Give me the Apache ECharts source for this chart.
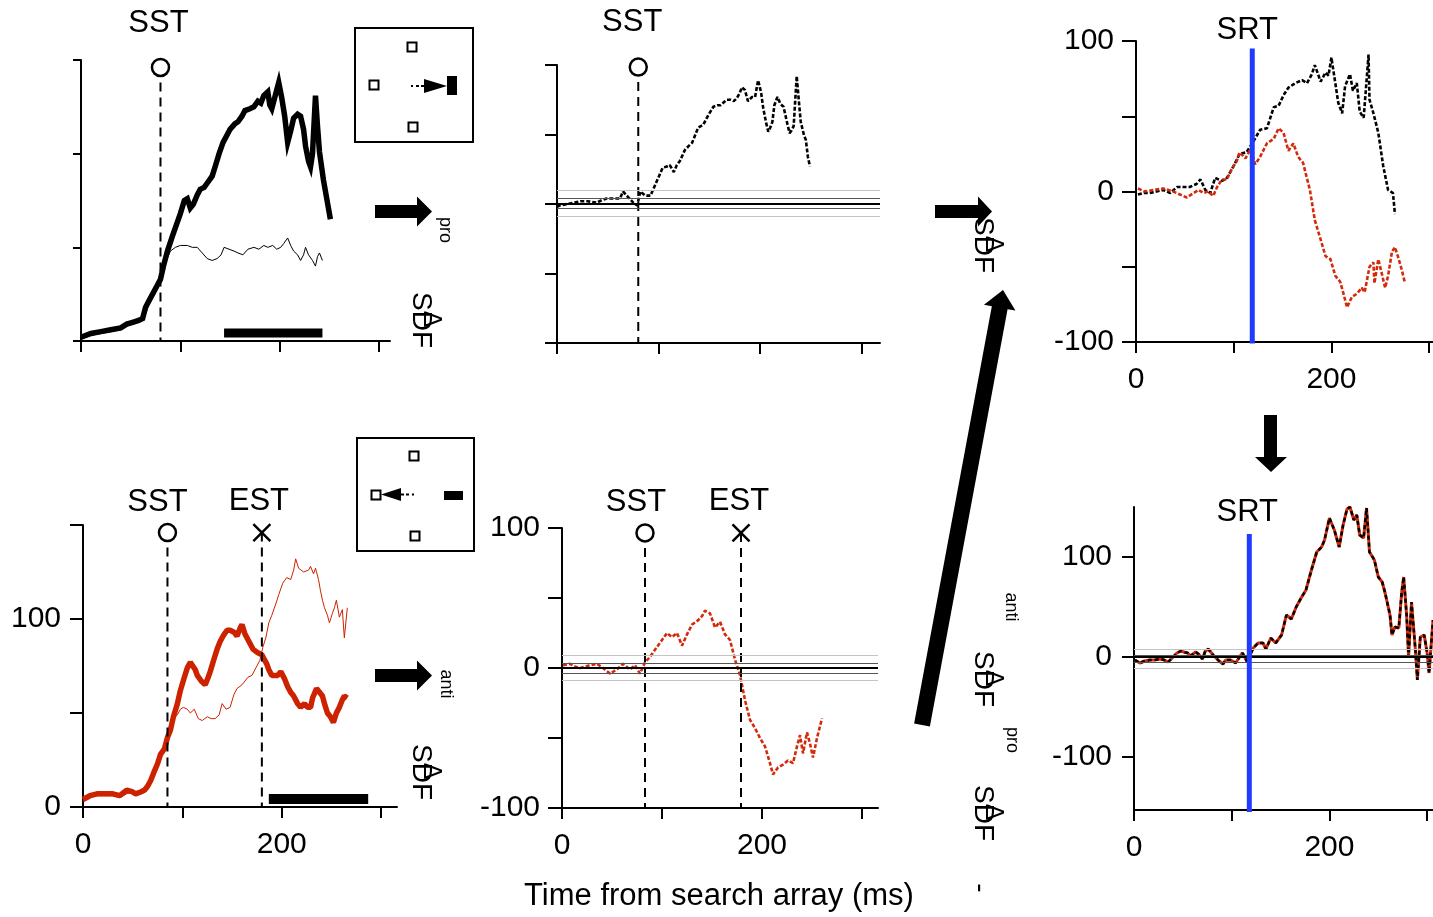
<!DOCTYPE html>
<html>
<head>
<meta charset="utf-8">
<script src="https://cdn.jsdelivr.net/npm/echarts@6/dist/echarts.min.js"></script>
<style>
  html, body { margin: 0; padding: 0; background: #fff; }
  #chart { width: 1433px; height: 917px; }
</style>
</head>
<body>
<div id="chart"></div>
<script>
// ---------------- data ----------------
// Pro-saccade trials: SDF for target in RF (bold) and distractor in RF (thin)
const proTargetT = [0,10,20,30,40,46,52,58,62,65,70,76,80,83,87,92,96,100,104,107,110,113,117,120,124,128,132,135,139,143,147,150,155,158,162,165,170,174,178,181,184,188,190,192,195,199,202,205,208,211,214,218,221,224,226,229,231,233,236,238,240,244,248,251];
const proTargetV = [2,4,5,6,7,9,10,11,12,18,23,29,33,40,48,56,62,68,75,76,71,73,78,81,82,85,88,93,100,106,110,113,116,117,120,123,124,125,128,127,131,133,126,124,130,138,130,120,106,112,119,121,120,113,104,96,93,100,131,115,101,86,74,65];
const proDistT = [0,10,20,30,40,46,52,58,62,66,70,76,80,85,90,95,100,107,112,117,122,127,132,137,141,144,149,154,158,163,168,174,179,184,188,193,197,201,204,208,211,214,218,221,224,226,229,233,236,238,240,243];
const proDistV = [1,3,4,5,6,8,9,10,11,16,22,29,34,42,48,50,51,51,50,50,47,44,43,44,46,50,49,48,47,46,49,50,49,51,50,51,49,50,52,55,51,48,46,43,46,50,46,43,40,45,47,43];
const proWindow = [144, 243];

// Anti-saccade trials
const antiTargetT = [0,7,14,22,30,37,44,50,53,58,62,65,68,71,75,78,82,85,88,91,95,98,102,105,108,110,113,115,119,123,126,128,132,135,138,141,145,148,152,155,158,160,163,167,171,176,180,182,185,187,190,192,196,199,203,206,209,212,216,219,223,226,229,231,235,238,241,243,246,249,252,255,258,261,263,266];
const antiTargetV = [4,6,7,7,7,6,9,8,7,8,9,11,14,18,23,28,31,37,41,48,55,62,69,74,77,76,73,70,67,65,69,72,79,84,88,91,94,94,93,91,95,97,92,88,84,82,81,79,76,73,70,69,70,72,68,64,61,59,55,53,55,53,53,58,63,61,59,55,50,48,45,50,53,57,59,58];
const antiDistT = [0,7,14,22,30,37,44,50,53,58,62,65,68,71,75,78,82,85,88,91,95,98,101,105,108,112,116,120,125,129,133,137,140,144,148,152,155,160,166,170,174,178,181,184,187,190,194,197,201,205,209,212,214,217,219,222,224,227,229,232,234,237,239,241,243,246,248,251,253,255,258,261,263,266];
const antiDistV = [3,5,6,6,6,5,7,8,6,7,8,11,15,20,24,29,33,38,44,47,49,52,53,52,50,52,47,46,48,47,47,49,55,52,53,60,63,65,69,70,74,78,85,90,98,102,108,113,119,122,121,126,132,127,126,125,124,126,128,124,127,121,115,110,106,102,98,103,106,110,101,105,90,106];
const antiWindow = [187, 287];

// Difference functions (target minus distractor)
const proDiffT = [0,3,10,17,23,30,39,45,49,55,62,65,70,75,79,82,87,92,98,104,108,111,115,118,121,126,130,133,139,144,149,154,158,161,164,167,171,174,177,180,182,185,188,192,195,198,201,203,206,208,210,212,214,217,220,223,227,229,231,233,236,238,240,243,245,247,249];
const proDiffV = [-2,-1,0,1,2,2,1,3,4,4,4,9,5,1,-1,9,6,6,16,26,27,28,23,28,31,39,42,44,55,57,64,70,71,71,73,75,75,74,76,80,84,82,74,77,77,89,80,69,58,52,55,59,71,77,72,70,57,51,53,56,92,75,59,50,46,34,27];
const antiDiffT = [1,8,13,18,23,28,35,41,48,55,61,68,73,78,83,88,93,100,105,110,115,120,125,130,136,140,143,148,153,158,163,168,173,178,183,188,193,198,203,208,211,216,221,226,231,235,238,241,245,248,251,255,260];
const antiDiffV = [2,3,1,0,1,2,3,0,-4,-1,3,-1,2,-4,4,8,13,20,25,22,25,16,24,31,34,37,41,39,29,33,24,20,6,-5,-23,-37,-43,-50,-56,-68,-76,-71,-69,-66,-68,-56,-48,-61,-46,-54,-64,-50,-36];
const proBands = [10, 4, 0, -3, -9];
const antiBands = [9, 3.5, 0, -3.5, -9];

// Saccade-aligned comparison
const proSrtT = [2,8,14,21,28,35,42,48,55,62,66,71,76,81,88,93,100,106,113,120,127,134,141,146,151,156,163,170,175,180,183,189,194,197,200,204,207,211,214,219,222,226,229,233,234,238,239,243,248,253,258,263,265];
const proSrtV = [-2,-1,-1,0,1,-1,3,3,3,5,8,1,-1,9,7,9,17,25,26,33,41,42,56,57,64,69,72,74,72,78,84,73,79,77,89,72,59,52,70,78,67,72,53,49,57,91,61,52,39,17,1,-1,-15];
const antiSrtT = [2,9,18,28,38,45,52,59,64,69,74,79,83,88,93,98,103,106,112,117,122,127,134,141,146,151,156,161,166,171,178,183,189,194,199,204,209,212,216,221,226,231,234,239,243,244,248,251,255,258,262,265,268,272,275];
const antiSrtV = [2,0,1,2,0,-2,-4,-1,1,-1,0,-3,3,8,8,15,20,26,22,28,18,23,32,35,42,39,27,32,23,19,1,-19,-32,-43,-45,-56,-60,-67,-77,-70,-68,-64,-67,-50,-47,-61,-45,-53,-64,-56,-40,-37,-43,-52,-60];
const combT = [1,6,11,16,21,27,31,35,40,44,48,51,55,58,63,66,70,73,76,81,84,87,91,94,99,104,108,111,116,119,122,127,132,135,140,145,151,156,161,166,171,176,181,184,187,192,195,200,205,210,214,218,221,225,228,231,235,238,241,246,250,254,257,262,264,267,271,274,276,279,281,284,288,290,293,297,300,302,306];
const combV = [-3,-6,-4,-3,-3,-2,-3,-5,0,4,6,5,4,1,5,3,-2,6,8,2,-1,-4,-7,-3,-3,-6,0,4,-5,2,9,14,14,8,19,14,22,42,38,50,59,67,85,95,105,110,117,139,127,110,132,148,150,137,142,122,119,149,105,97,80,75,64,42,22,30,29,65,80,42,0,55,7,-23,20,22,4,-16,37];
const combBands = [8, 2, 0, -5, -11];

// Event times (ms)
const sstPro = 80;
const sstAnti = 85;
const estAnti = 180;
const sstAntiDiff = 83;
const estAntiDiff = 179;
const srtPro = 119;
const srtComb = 118;

// Axis ticks and labels
const xTicks = [0, 100, 200, 300];
const xLabels = [0, 200];
const ticks150 = [0, 50, 100, 150];
const labels150 = [0, 100];
const ticks100 = [-100, -50, 0, 50, 100];
const labels100 = [-100, 0, 100];
const ticksComb = [-100, 0, 100];

// ---------------- drawing ----------------
const FONT = 'Liberation Sans';
const SMALL_FONT = 'Arial, "Liberation Sans", sans-serif';
const RED = '#cc2200';
const RED_DOT = '#d42a0c';
const BLUE = '#1f3bff';
const pairs = (t, v) => t.map((x, i) => [x, v[i]]);

const grids = [
  { left: 81,   top: 60,  width: 309, height: 281 },
  { left: 557,  top: 65,  width: 323, height: 278 },
  { left: 1136, top: 41,  width: 298, height: 301 },
  { left: 83,   top: 525, width: 314, height: 282 },
  { left: 562,  top: 528, width: 316, height: 280 },
  { left: 1134, top: 507, width: 299, height: 303 }
].map(g => Object.assign({ outerBoundsMode: 'none', containLabel: false }, g));

function xAxisCfg(gi, max, labels) {
  return {
    type: 'value', gridIndex: gi, min: 0, max: max, position: 'bottom',
    axisLine: { show: true, onZero: false, lineStyle: { color: '#000', width: 2 } },
    axisTick: { show: true, length: 11, lineStyle: { color: '#000', width: 2 }, customValues: xTicks },
    axisLabel: { show: labels.length > 0, customValues: labels, color: '#000', fontSize: 30, fontFamily: FONT, margin: 23 },
    splitLine: { show: false }
  };
}
function yAxisCfg(gi, min, max, ticks, labels, tickLen) {
  return {
    type: 'value', gridIndex: gi, min: min, max: max, position: 'left',
    axisLine: { show: true, onZero: false, lineStyle: { color: '#000', width: 2 } },
    axisTick: { show: true, length: tickLen, lineStyle: { color: '#000', width: 2 }, customValues: ticks },
    axisLabel: { show: labels.length > 0, customValues: labels, color: '#000', fontSize: 30, fontFamily: FONT, margin: 22 },
    splitLine: { show: false }
  };
}

const xAxes = [
  xAxisCfg(0, 311, []),
  xAxisCfg(1, 318, []),
  xAxisCfg(2, 305, xLabels),
  xAxisCfg(3, 316, xLabels),
  xAxisCfg(4, 316, xLabels),
  xAxisCfg(5, 306, xLabels)
];
const yAxes = [
  yAxisCfg(0, 0, 150, ticks150, [], 8),
  yAxisCfg(1, -100, 100, ticks100, [], 12),
  yAxisCfg(2, -100, 100, ticks100, labels100, 14),
  yAxisCfg(3, 0, 150, ticks150, labels150, 13),
  yAxisCfg(4, -100, 100, ticks100, labels100, 14),
  yAxisCfg(5, -153, 150, ticksComb, ticksComb, 12)
];

function curve(gi, data, lineStyle, z) {
  return { type: 'line', xAxisIndex: gi, yAxisIndex: gi, data: data, showSymbol: false, symbol: 'none',
           lineStyle: lineStyle, z: z || 2, silent: true };
}
function bands(gi, values) {
  const styles = [
    { color: '#c4c4c4', width: 1 }, { color: '#555', width: 1.2 }, { color: '#000', width: 2 },
    { color: '#555', width: 1.2 }, { color: '#c4c4c4', width: 1 }
  ];
  return {
    type: 'line', xAxisIndex: gi, yAxisIndex: gi, data: [], silent: true, z: 1,
    markLine: {
      silent: true, symbol: 'none', animation: false, label: { show: false },
      lineStyle: { type: 'solid' },
      data: values.map((v, i) => ({ yAxis: v, lineStyle: Object.assign({ type: 'solid' }, styles[i]) }))
    }
  };
}
const labelStyle = { color: '#000', fontSize: 31, fontFamily: FONT };
// Vertical dashed line with a marker on top and a text label above it
function event(gi, t, yTop, yBottom, kind, text, dx, dist) {
  const style = kind === 'circle'
    ? { symbol: 'circle', itemStyle: { color: '#fff', borderColor: '#000', borderWidth: 2.5, opacity: 1 } }
    : { symbol: 'path://M0,0L10,10M10,0L0,10', itemStyle: { color: 'none', borderColor: '#000', borderWidth: 2.5, opacity: 1 } };
  return [
    curve(gi, [[t, yTop], [t, yBottom]], { color: '#000', width: 2, type: [9, 6] }, 4),
    Object.assign({
      type: 'scatter', xAxisIndex: gi, yAxisIndex: gi, data: [[t, yTop]], symbolSize: 17, z: 6, silent: true,
      label: Object.assign({ show: true, formatter: text, position: 'top', distance: dist, offset: [dx, 0] }, labelStyle)
    }, style)
  ];
}
function srtLine(gi, t, yTop, yBottom, dx, dist) {
  return {
    type: 'line', xAxisIndex: gi, yAxisIndex: gi, z: 7, silent: true, clip: false,
    data: [{ value: [t, yTop], label: Object.assign({ show: true, formatter: 'SRT', position: 'top', distance: dist, offset: [dx, 0] }, labelStyle) },
           { value: [t, yBottom] }],
    symbol: 'circle', symbolSize: 0.01, showSymbol: true,
    lineStyle: { color: BLUE, width: 5 }, itemStyle: { color: BLUE }
  };
}
function windowBar(gi, win, y, width) {
  return curve(gi, [[win[0], y], [win[1], y]], { color: '#000', width: width, cap: 'butt' }, 3);
}

const dotted = (color) => ({ color: color, width: 2.6, type: [4, 2] });

const series = [
  // top-left: pro trials
  curve(0, pairs(proDistT, proDistV), { color: '#000', width: 1 }, 2),
  curve(0, pairs(proTargetT, proTargetV), { color: '#000', width: 5.5, join: 'miter' }, 3),
  windowBar(0, proWindow, 4.3, 9),
  ...event(0, sstPro, 146, 0, 'circle', 'SST', -2, 19),

  // top-middle: pro difference
  bands(1, proBands),
  curve(1, pairs(proDiffT, proDiffV), dotted('#000'), 3),
  ...event(1, sstPro, 98.5, -100, 'circle', 'SST', -6, 19),

  // top-right: saccade-aligned differences
  curve(2, pairs(proSrtT, proSrtV), dotted('#000'), 3),
  curve(2, pairs(antiSrtT, antiSrtV), dotted(RED_DOT), 3),
  srtLine(2, srtPro, 95, -101, -5, 3),

  // bottom-left: anti trials
  curve(3, pairs(antiDistT, antiDistV), { color: RED, width: 1 }, 2),
  curve(3, pairs(antiTargetT, antiTargetV), { color: RED, width: 5.5 }, 3),
  windowBar(3, antiWindow, 4.3, 10),
  ...event(3, sstAnti, 146, 0, 'circle', 'SST', -10, 5),
  ...event(3, estAnti, 146, 0, 'cross', 'EST', -3, 5),

  // bottom-middle: anti difference
  bands(4, antiBands),
  curve(4, pairs(antiDiffT, antiDiffV), dotted(RED_DOT), 3),
  ...event(4, sstAntiDiff, 96.5, -100, 'circle', 'SST', -9, 5),
  ...event(4, estAntiDiff, 96.5, -100, 'cross', 'EST', -2, 5),

  // bottom-right: combined
  bands(5, combBands),
  curve(5, pairs(combT, combV), { color: RED_DOT, width: 3 }, 3),
  curve(5, pairs(combT, combV), { color: '#000', width: 2.5, type: [4, 3] }, 4),
  srtLine(5, srtComb, 123, -155, -2, 6)
];

// ---------- decorations: arrows, task insets, rotated labels ----------
function rightArrow(x0, x1, xt, yc, h, H) {
  return { type: 'polygon', silent: true, z: 50,
    shape: { points: [[x0, yc - h / 2], [x1, yc - h / 2], [x1, yc - H / 2], [xt, yc], [x1, yc + H / 2], [x1, yc + h / 2], [x0, yc + h / 2]] },
    style: { fill: '#000' } };
}
function slantArrow(tail, tip, shaftHalf, headHalf, headLen) {
  const dx = tip[0] - tail[0], dy = tip[1] - tail[1];
  const L = Math.hypot(dx, dy);
  const u = [dx / L, dy / L], p = [-u[1], u[0]];
  const base = [tip[0] - u[0] * headLen, tip[1] - u[1] * headLen];
  const at = (o, k) => [o[0] + p[0] * k, o[1] + p[1] * k];
  return { type: 'polygon', silent: true, z: 50,
    shape: { points: [at(tail, shaftHalf), at(base, shaftHalf), at(base, headHalf), tip, at(base, -headHalf), at(base, -shaftHalf), at(tail, -shaftHalf)] },
    style: { fill: '#000' } };
}
function vText(x, y, text, size, family) {
  return { type: 'text', x: x, y: y, rotation: -Math.PI / 2, silent: true, z: 60,
    style: { text: text, fontSize: size, fontFamily: family || FONT, fill: '#000', textAlign: 'center', textVerticalAlign: 'middle',
             align: 'center', verticalAlign: 'middle' } };
}
function sdfLabel(x, y) {
  return [vText(x, y, 'SDF', 28), vText(x + 10, y - 1, 'Δ', 25)];
}
function square(cx, cy) {
  return { type: 'rect', silent: true, z: 52, shape: { x: cx - 4.5, y: cy - 4.5, width: 9, height: 9 },
           style: { fill: '#fff', stroke: '#000', lineWidth: 2 } };
}
function box(x, y, w, h) {
  return { type: 'rect', silent: true, z: 51, shape: { x: x, y: y, width: w, height: h },
           style: { fill: '#fff', stroke: '#000', lineWidth: 2 } };
}
function solidRect(x, y, w, h) {
  return { type: 'rect', silent: true, z: 52, shape: { x: x, y: y, width: w, height: h }, style: { fill: '#000' } };
}
function seg(x1, y1, x2, y2, dash) {
  return { type: 'line', silent: true, z: 52, shape: { x1: x1, y1: y1, x2: x2, y2: y2 },
           style: { stroke: '#000', lineWidth: 2, lineDash: dash || null } };
}
function tri(points) {
  return { type: 'polygon', silent: true, z: 52, shape: { points: points }, style: { fill: '#000' } };
}

const graphics = [
  // flow arrows
  rightArrow(375, 417, 432, 211.5, 13, 30),
  rightArrow(935, 978, 992, 211.5, 13, 30),
  rightArrow(375, 417, 432, 675.5, 13, 30),
  { type: 'polygon', silent: true, z: 50,
    shape: { points: [[1264, 415], [1277, 415], [1277, 457], [1287, 457], [1271, 472], [1255, 457], [1264, 457]] },
    style: { fill: '#000' } },
  slantArrow([922, 725], [1003, 290], 8, 16, 18),

  // pro task inset
  box(355, 28, 118, 114),
  square(412, 47), square(374, 85), square(413, 127),
  solidRect(447, 76, 10, 19),
  seg(411, 86, 413, 86), seg(416, 86, 425, 86, [3, 2]),
  tri([[424, 79], [447, 86], [424, 93]]),

  // anti task inset
  box(357, 438, 117, 113),
  square(414, 456), square(376, 495), square(415, 536),
  solidRect(444, 491, 19, 9),
  seg(412, 494.5, 414, 494.5), seg(401, 494.5, 409, 494.5, [3, 2]),
  tri([[401, 488], [381, 494.5], [401, 501]]),

  // rotated labels
  vText(445, 230, 'pro', 18, SMALL_FONT),
  ...sdfLabel(421, 320),
  ...sdfLabel(983, 245),
  vText(446, 684, 'anti', 18, SMALL_FONT),
  ...sdfLabel(421, 772),
  vText(1011, 607, 'anti', 18, SMALL_FONT),
  ...sdfLabel(983, 679),
  vText(1012, 740, 'pro', 18, SMALL_FONT),
  ...sdfLabel(983, 813),
  vText(980, 888, '-', 28),

  // shared axis title
  { type: 'text', x: 719, y: 896, silent: true, z: 60,
    style: { text: 'Time from search array (ms)', fontSize: 31, fontFamily: FONT, fill: '#000',
             textAlign: 'center', textVerticalAlign: 'middle', align: 'center', verticalAlign: 'middle' } }
];

const chart = echarts.init(document.getElementById('chart'), null, { renderer: 'canvas' });
chart.setOption({
  backgroundColor: '#fff',
  animation: false,
  grid: grids,
  xAxis: xAxes,
  yAxis: yAxes,
  series: series,
  graphic: { elements: graphics }
});
</script>
</body>
</html>
